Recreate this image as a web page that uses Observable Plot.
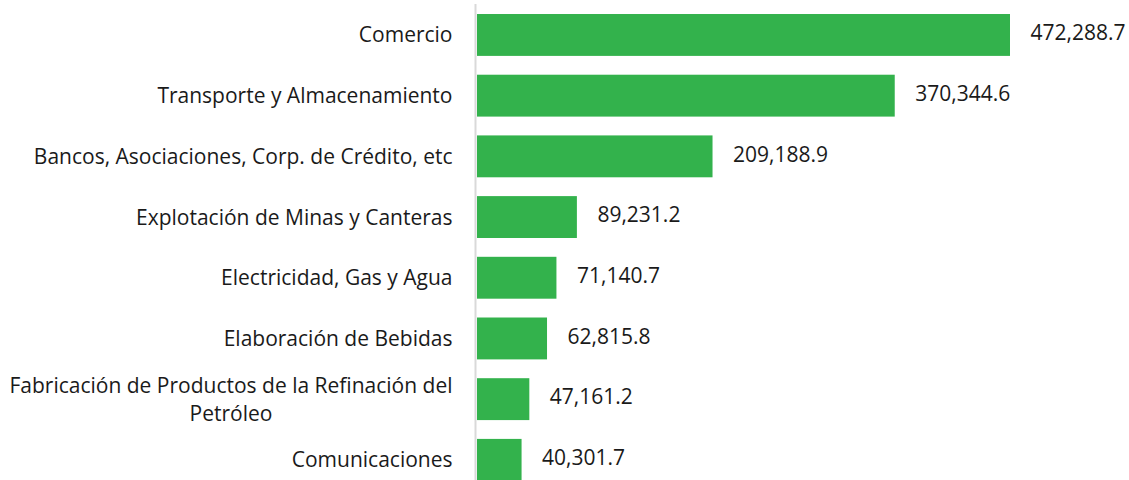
<!DOCTYPE html>
<html>
<head>
<meta charset="utf-8">
<script src="https://cdn.jsdelivr.net/npm/d3@7"></script>
<script src="https://cdn.jsdelivr.net/npm/@observablehq/plot@0.6"></script>
<style>
  html, body { margin: 0; padding: 0; background: #fff; }
  #chart svg { display: block; }
</style>
</head>
<body>
<div id="chart"></div>
<script>
const categories = [
  "Comercio",
  "Transporte y Almacenamiento",
  "Bancos, Asociaciones, Corp. de Crédito, etc",
  "Explotación de Minas y Canteras",
  "Electricidad, Gas y Agua",
  "Elaboración de Bebidas",
  "Fabricación de Productos de la Refinación del\nPetróleo",
  "Comunicaciones"
];
const values = [472288.7, 370344.6, 209188.9, 89231.2, 71140.7, 62815.8, 47161.2, 40301.7];

const data = categories.map((c, i) => ({category: c, value: values[i]}));
const fmt = d3.format(",.1f");
const FONT = "'Open Sans', sans-serif";

const chart = Plot.plot({
  width: 1129,
  height: 480,
  marginLeft: 476,
  marginRight: 119,
  marginTop: 4,
  marginBottom: 0,
  style: {fontFamily: FONT, fontSize: "21px", color: "#1a1a1a", background: "#fff"},
  x: {domain: [0, d3.max(values)], axis: null},
  y: {domain: categories, range: [-4.8, 499.6], padding: 0.31, round: false, axis: null},
  marks: [
    Plot.barX(data, {x: "value", y: "category", fill: "#33b24c", insetLeft: 1}),
    Plot.ruleX([0], {stroke: "#d9d9d9", strokeWidth: 2, dx: -1}),
    Plot.text(data, {x: 0, y: "category", text: "category", textAnchor: "end", dx: -24, dy: -2, lineHeight: 1.33, fill: "#1a1a1a", fontSize: 21}),
    Plot.text(data, {x: "value", y: "category", text: d => fmt(d.value), textAnchor: "start", dx: 20, dy: -2, fill: "#1a1a1a", fontSize: 21})
  ]
});
document.getElementById("chart").appendChild(chart);

// center multi-line category labels like the reference
chart.querySelectorAll("text").forEach(t => {
  const spans = t.querySelectorAll("tspan");
  if (spans.length > 1) {
    let w = 0;
    spans.forEach(s => { w = Math.max(w, s.getComputedTextLength()); });
    t.setAttribute("text-anchor", "middle");
    spans.forEach(s => s.setAttribute("x", -w / 2));
  }
});
</script>
</body>
</html>
